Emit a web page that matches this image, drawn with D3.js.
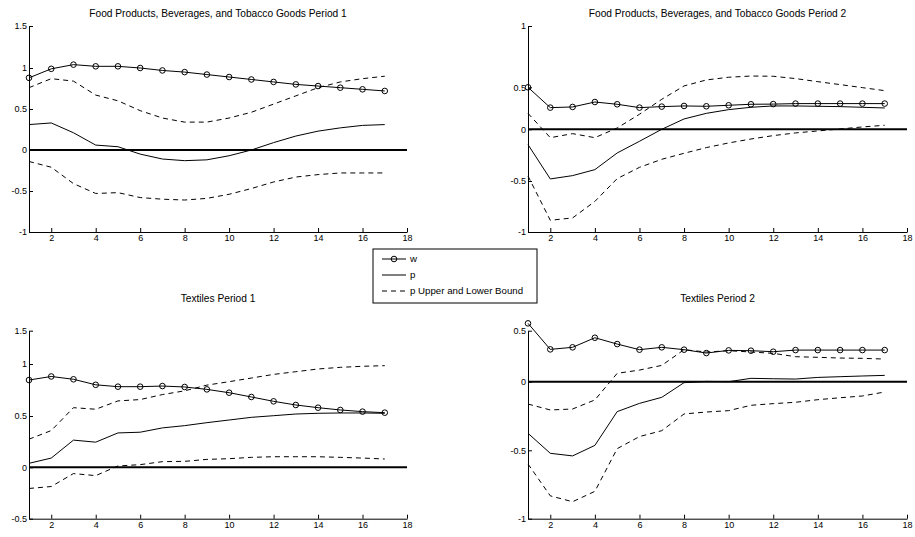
<!DOCTYPE html>
<html>
<head>
<meta charset="utf-8">
<script src="https://cdn.jsdelivr.net/npm/d3@7"></script>
<style>
  body { margin: 0; background: #fff; }
  text { font-family: "Liberation Sans", Arial, sans-serif; fill: #000; }
</style>
</head>
<body>
<div id="chart"></div>
<script>
// horizon steps (x values) and x tick labels
const steps = [1, 2, 3, 4, 5, 6, 7, 8, 9, 10, 11, 12, 13, 14, 15, 16, 17];
const xTicks = [2, 4, 6, 8, 10, 12, 14, 16, 18];

// Food Products, Beverages, and Tobacco Goods Period 1
const food1W = [0.88, 0.99, 1.04, 1.02, 1.02, 1.0, 0.97, 0.95, 0.92, 0.89, 0.86, 0.83, 0.8, 0.78, 0.76, 0.74, 0.72];
const food1P = [0.31, 0.33, 0.21, 0.06, 0.04, -0.05, -0.11, -0.13, -0.12, -0.07, 0.0, 0.09, 0.17, 0.23, 0.27, 0.3, 0.31];
const food1Up = [0.76, 0.87, 0.84, 0.67, 0.6, 0.48, 0.39, 0.34, 0.34, 0.39, 0.46, 0.56, 0.66, 0.76, 0.83, 0.87, 0.9];
const food1Lo = [-0.14, -0.21, -0.41, -0.53, -0.52, -0.58, -0.6, -0.61, -0.59, -0.54, -0.47, -0.39, -0.33, -0.3, -0.28, -0.28, -0.28];

// Food Products, Beverages, and Tobacco Goods Period 2
const food2W = [0.5, 0.258, 0.266, 0.325, 0.298, 0.258, 0.27, 0.278, 0.274, 0.286, 0.298, 0.3, 0.306, 0.306, 0.306, 0.306, 0.306];
const food2P = [-0.148, -0.48, -0.448, -0.39, -0.229, -0.116, 0.0, 0.123, 0.19, 0.234, 0.262, 0.278, 0.278, 0.274, 0.27, 0.262, 0.254];
const food2Up = [0.19, -0.081, -0.042, -0.081, 0.016, 0.179, 0.357, 0.511, 0.56, 0.582, 0.592, 0.59, 0.571, 0.546, 0.522, 0.496, 0.46];
const food2Lo = [-0.452, -0.885, -0.862, -0.7, -0.477, -0.368, -0.29, -0.232, -0.177, -0.132, -0.094, -0.061, -0.035, -0.016, 0.004, 0.028, 0.048];

// Textiles Period 1
const tex1W = [0.846, 0.88, 0.853, 0.8, 0.782, 0.782, 0.788, 0.779, 0.756, 0.724, 0.683, 0.641, 0.606, 0.58, 0.558, 0.542, 0.532];
const tex1P = [0.039, 0.09, 0.265, 0.245, 0.335, 0.342, 0.384, 0.406, 0.435, 0.461, 0.487, 0.503, 0.519, 0.526, 0.529, 0.529, 0.526];
const tex1Up = [0.274, 0.358, 0.58, 0.565, 0.645, 0.658, 0.706, 0.742, 0.797, 0.83, 0.865, 0.9, 0.926, 0.952, 0.968, 0.978, 0.984];
const tex1Lo = [-0.206, -0.187, -0.061, -0.081, 0.013, 0.026, 0.055, 0.058, 0.077, 0.084, 0.097, 0.103, 0.103, 0.103, 0.097, 0.09, 0.081];

// Textiles Period 2
const tex2W = [0.572, 0.317, 0.337, 0.431, 0.369, 0.314, 0.337, 0.314, 0.281, 0.307, 0.304, 0.294, 0.31, 0.31, 0.31, 0.31, 0.31];
const tex2P = [-0.376, -0.522, -0.541, -0.464, -0.218, -0.158, -0.114, -0.007, 0.003, 0.0, 0.033, 0.029, 0.026, 0.042, 0.049, 0.056, 0.062];
const tex2Up = [-0.163, -0.206, -0.199, -0.133, 0.082, 0.114, 0.16, 0.314, 0.291, 0.304, 0.291, 0.278, 0.245, 0.239, 0.232, 0.229, 0.222];
const tex2Lo = [-0.6, -0.833, -0.876, -0.8, -0.488, -0.4, -0.357, -0.235, -0.221, -0.211, -0.172, -0.16, -0.15, -0.131, -0.117, -0.104, -0.075];

// y tick values for each panel
const food1YTicks = [-1, -0.5, 0, 0.5, 1, 1.5];
const food2YTicks = [-1, -0.5, 0, 0.5, 1];
const tex1YTicks = [-0.5, 0, 0.5, 1, 1.5];
const tex2YTicks = [-1, -0.5, 0, 0.5];

const legendLabels = ["w", "p", "p Upper and Lower Bound"];

const width = 915, height = 537;

const svg = d3.select("#chart").append("svg")
  .attr("width", width)
  .attr("height", height)
  .attr("viewBox", [0, 0, width, height]);

// layout: left/right edges and the pixel rows of each y tick (the source axes are unevenly spaced)
const panels = [
  { title: "Food Products, Beverages, and Tobacco Goods Period 1", left: 29, right: 407,
    yTicks: food1YTicks, yRows: [232, 191, 150, 109, 68, 26], titleY: 17,
    w: food1W, p: food1P, up: food1Up, lo: food1Lo },
  { title: "Food Products, Beverages, and Tobacco Goods Period 2", left: 528, right: 907,
    yTicks: food2YTicks, yRows: [232, 181, 129.3, 87.3, 26], titleY: 17,
    w: food2W, p: food2P, up: food2Up, lo: food2Lo },
  { title: "Textiles Period 1", left: 29, right: 407,
    yTicks: tex1YTicks, yRows: [518.7, 467.3, 416, 364, 330.7], titleY: 302,
    w: tex1W, p: tex1P, up: tex1Up, lo: tex1Lo },
  { title: "Textiles Period 2", left: 528, right: 907,
    yTicks: tex2YTicks, yRows: [518.7, 450.3, 381.7, 330.7], titleY: 302,
    w: tex2W, p: tex2P, up: tex2Up, lo: tex2Lo }
];

panels.forEach((pn) => {
  const x = d3.scaleLinear().domain([1, 18]).range([pn.left, pn.right]);
  const y = d3.scaleLinear().domain(pn.yTicks).range(pn.yRows);
  const bottom = pn.yRows[0];
  const g = svg.append("g");

  g.append("text")
    .attr("x", (pn.left + pn.right) / 2)
    .attr("y", pn.titleY)
    .attr("text-anchor", "middle")
    .style("font-size", "10.2px")
    .text(pn.title);

  const line = (vals) => d3.line()
    .x((d, i) => x(steps[i]))
    .y((d) => y(d))(vals);

  // zero line
  g.append("line")
    .attr("x1", x(1)).attr("x2", x(18))
    .attr("y1", y(0)).attr("y2", y(0))
    .attr("stroke", "#000")
    .attr("stroke-width", 2);

  [pn.up, pn.lo].forEach((vals) => {
    g.append("path")
      .attr("d", line(vals))
      .attr("fill", "none")
      .attr("stroke", "#000")
      .attr("stroke-width", 1)
      .attr("stroke-dasharray", "5,4");
  });

  g.append("path")
    .attr("d", line(pn.p))
    .attr("fill", "none")
    .attr("stroke", "#000")
    .attr("stroke-width", 1);

  g.append("path")
    .attr("d", line(pn.w))
    .attr("fill", "none")
    .attr("stroke", "#000")
    .attr("stroke-width", 1);

  g.selectAll("circle")
    .data(pn.w)
    .enter()
    .append("circle")
    .attr("cx", (d, i) => x(steps[i]))
    .attr("cy", (d) => y(d))
    .attr("r", 2.8)
    .attr("fill", "none")
    .attr("stroke", "#000")
    .attr("stroke-width", 1);

  const xAxis = g.append("g")
    .attr("transform", "translate(0," + bottom + ")")
    .call(d3.axisBottom(x).tickValues(xTicks).tickSizeInner(-4).tickSizeOuter(0).tickPadding(3));

  const yAxis = g.append("g")
    .attr("transform", "translate(" + pn.left + ",0)")
    .call(d3.axisLeft(y).tickValues(pn.yTicks).tickFormat((d) => String(d))
      .tickSizeInner(-4).tickSizeOuter(0).tickPadding(2));

  [xAxis, yAxis].forEach((a) => {
    a.attr("font-family", null).attr("font-size", null);
    a.selectAll("text").style("font-size", "9px").attr("fill", "#000");
    a.selectAll("line").attr("stroke", "#000");
    a.select(".domain").attr("stroke", "#000");
  });
});

// legend
const lg = svg.append("g").attr("transform", "translate(373,249)");
lg.append("rect")
  .attr("width", 164).attr("height", 54)
  .attr("fill", "#fff").attr("stroke", "#000").attr("stroke-width", 1);

const rowY = d3.scalePoint().domain(legendLabels).range([10, 42]);
legendLabels.forEach((lab, i) => {
  const yy = rowY(lab);
  lg.append("line")
    .attr("x1", 9).attr("x2", 33)
    .attr("y1", yy).attr("y2", yy)
    .attr("stroke", "#000")
    .attr("stroke-dasharray", i === 2 ? "5,4" : null);
  if (i === 0) {
    lg.append("circle").attr("cx", 21).attr("cy", yy).attr("r", 2.8)
      .attr("fill", "none").attr("stroke", "#000");
  }
  lg.append("text")
    .attr("x", 37).attr("y", yy)
    .attr("dy", "0.35em")
    .style("font-size", "9.7px")
    .text(lab);
});
</script>
</body>
</html>
